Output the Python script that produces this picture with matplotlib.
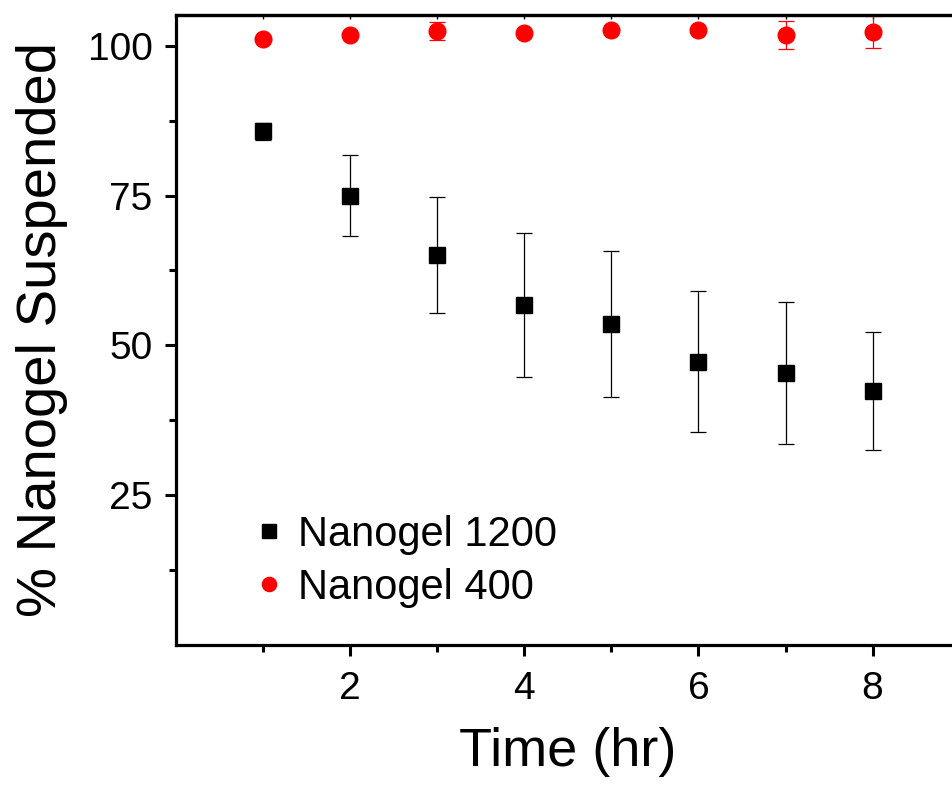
import numpy as np
import matplotlib
matplotlib.use("Agg")
import matplotlib.pyplot as plt

plt.rcParams['font.family'] = ['Liberation Sans', 'DejaVu Sans']

# data
time_hr = [1, 2, 3, 4, 5, 6, 7, 8]
ng1200_mean = [85.7, 75.0, 65.1, 56.8, 53.6, 47.3, 45.4, 42.4]
ng1200_err = [1.4, 6.75, 9.7, 12.0, 12.2, 11.8, 11.8, 9.8]
ng400_mean = [101.1, 101.8, 102.4, 102.2, 102.7, 102.7, 101.8, 102.3]
ng400_err = [0.3, 0.3, 1.5, 0.3, 0.3, 0.3, 2.35, 2.65]
labels = ["Nanogel 1200", "Nanogel 400"]

fig = plt.figure(figsize=(9.52, 7.89), dpi=100)
ax = fig.add_axes([0.185, 0.1825, 0.823, 0.799])

ax.errorbar(time_hr, ng1200_mean, yerr=ng1200_err, fmt='s', color='black',
            ecolor='black', elinewidth=0.9, capsize=6, capthick=0.9,
            markersize=11.5, label=labels[0])
ax.errorbar(time_hr, ng400_mean, yerr=ng400_err, fmt='o', color='red',
            ecolor='red', elinewidth=0.9, capsize=6, capthick=0.9,
            markersize=12, label=labels[1])

ax.set_xlim(0, 9)
ax.set_ylim(0, 105.2)
ax.set_xticks([2, 4, 6, 8])
ax.set_xticks([1, 3, 5, 7, 9], minor=True)
ax.set_yticks([25, 50, 75, 100])
ax.set_yticks([12.5, 37.5, 62.5, 87.5], minor=True)

for side in ['left', 'bottom', 'top']:
    ax.spines[side].set_linewidth(2.3)
ax.spines['right'].set_visible(False)

ax.tick_params(which='major', direction='out', length=8, width=2.2,
               labelsize=28, pad=9)
ax.tick_params(which='minor', direction='out', length=5, width=2.2)
ax.tick_params(axis='x', which='major', pad=11)

top = ax.secondary_xaxis('top')
top.set_xticks(time_hr)
top.tick_params(direction='in', length=3, width=1, labeltop=False)
top.spines['top'].set_linewidth(2.3)

ax.set_xlabel("Time (hr)", fontsize=39, labelpad=14)
ax.set_ylabel("% Nanogel Suspended", fontsize=40.5, labelpad=14)

handles, lbls = ax.get_legend_handles_labels()
handles = [h[0] for h in handles]
ax.legend(handles, lbls, loc='lower left', bbox_to_anchor=(0.044, 0.0),
          frameon=False, fontsize=30, handlelength=1.0, handletextpad=0.2,
          labelspacing=0.3, markerscale=0.85)

fig.savefig("out.png", dpi=100)
